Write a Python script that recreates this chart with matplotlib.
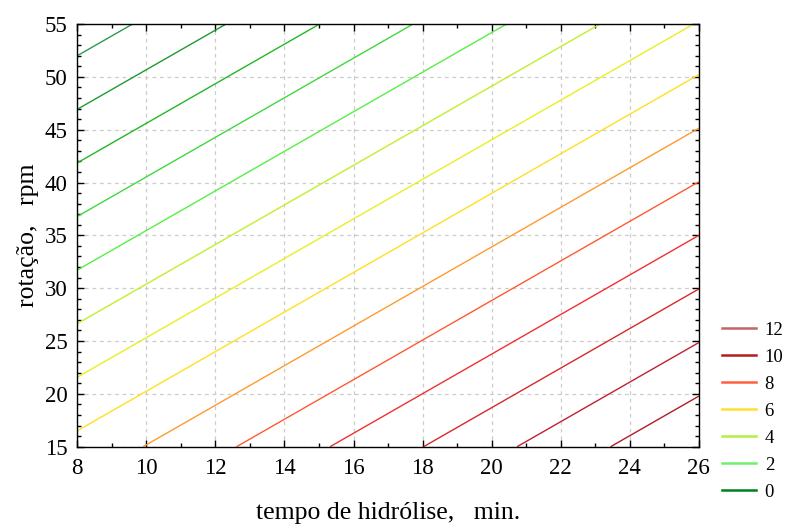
import numpy as np
import matplotlib
matplotlib.use("Agg")
import matplotlib.pyplot as plt
from matplotlib.lines import Line2D
from matplotlib.ticker import MultipleLocator

# fitted response surface: z = b0 + b_tempo*tempo + b_rot*rotacao
b0 = 6.30
b_tempo = 0.3693
b_rot = -0.1972

tempo_range = [8, 26]
rot_range = [15, 55]

levels = [-1, 0, 1, 2, 3, 4, 5, 6, 7, 8, 9, 10, 11, 12]
level_colors = ['#2a9a50', '#1f9a30', '#22b825', '#3fd83f', '#55f045', '#c0f028',
                '#e8f020', '#ffe020', '#ff9a30', '#ff5a30', '#f03030', '#d82828',
                '#c02030', '#b01c28']

legend_labels = ['12', '10', '8', '6', '4', '2', '0']
legend_colors = ['#c06666', '#b02020', '#ff6040', '#ffe030', '#b4f040', '#70f070', '#008020']

plt.rcParams['font.family'] = ['Liberation Serif', 'DejaVu Serif']

fig = plt.figure(figsize=(7.87, 5.29), dpi=100)
ax = fig.add_axes([0.0982, 0.1556, 0.7898, 0.799])

t = np.linspace(tempo_range[0], tempo_range[1], 200)
r = np.linspace(rot_range[0], rot_range[1], 200)
T, R = np.meshgrid(t, r)
Z = b0 + b_tempo * T + b_rot * R

ax.contour(T, R, Z, levels=levels, colors=level_colors, linewidths=1.0)

ax.set_xlim(tempo_range)
ax.set_ylim(rot_range)
ax.xaxis.set_major_locator(MultipleLocator(2))
ax.xaxis.set_minor_locator(MultipleLocator(1))
ax.yaxis.set_major_locator(MultipleLocator(5))
ax.yaxis.set_minor_locator(MultipleLocator(1))
ax.tick_params(which='both', direction='in', top=True, right=True, labelsize=16.5, width=1)
ax.tick_params(which='major', length=5, pad=7)
ax.tick_params(axis='x', which='major', pad=8)
ax.tick_params(which='minor', length=3)
ax.grid(True, which='major', color='#cccccc', linestyle=(0, (3, 3)), linewidth=0.9)
for s in ax.spines.values():
    s.set_linewidth(1.0)

ax.set_xlabel('tempo de hidrólise,   min.', fontsize=18.5, labelpad=17)
ax.set_ylabel('rotação,   rpm', fontsize=18.5, labelpad=4)

handles = [Line2D([], [], color=c, lw=1.8) for c in legend_colors]
fig.legend(handles, legend_labels, loc='upper left', bbox_to_anchor=(0.905, 0.41),
           frameon=False, fontsize=13.5, handlelength=1.85, handletextpad=0.45,
           labelspacing=0.53, borderpad=0)

fig.savefig('out.png', dpi=100)
